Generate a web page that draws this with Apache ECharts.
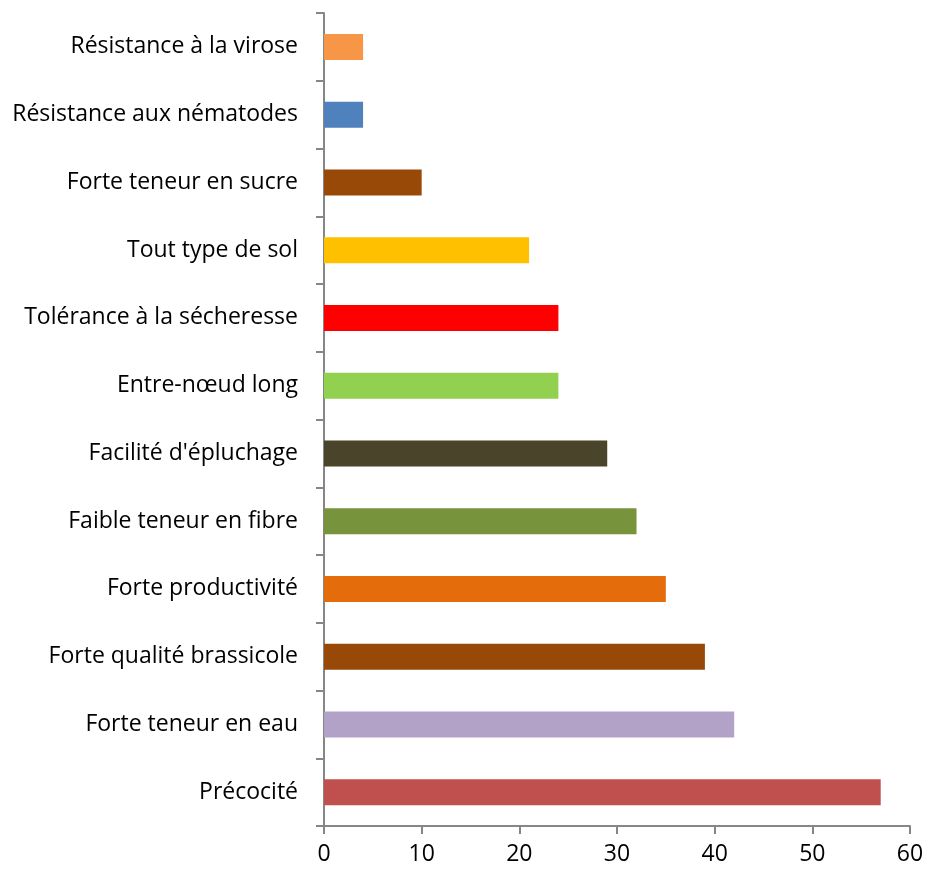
<!DOCTYPE html>
<html>
<head>
<meta charset="utf-8">
<script src="https://cdn.jsdelivr.net/npm/echarts@6/dist/echarts.min.js"></script>
<style>
    html, body { margin: 0; padding: 0; background: #fff; }
    #chart-bar-01 { width: 929px; height: 872px; }
</style>
</head>
<body>
<div id="chart-bar-01"></div>
<script>
// 类别（从下到上）
var categories = ['Précocité', 'Forte teneur en eau', 'Forte qualité brassicole', 'Forte productivité',
    'Faible teneur en fibre', "Facilité d'épluchage", 'Entre-nœud long', 'Tolérance à la sécheresse',
    'Tout type de sol', 'Forte teneur en sucre', 'Résistance aux nématodes', 'Résistance à la virose'];
var values = [57, 42, 39, 35, 32, 29, 24, 24, 21, 10, 4, 4];
var barColors = ['#C0504D', '#B3A2C7', '#984807', '#E46C0A', '#77933C', '#4A452A',
    '#92D050', '#FF0000', '#FFC000', '#984807', '#4F81BD', '#F79646'];
var xTicks = [0, 10, 20, 30, 40, 50, 60];

var chartbar1 = echarts.init(document.getElementById('chart-bar-01'));

var option = {
    animation: false,
    textStyle: {
        fontFamily: 'Open Sans'
    },
    grid: {
        left: 324,
        right: 19,
        top: 13,
        bottom: 46,
        containLabel: false
    },
    xAxis: {
        type: 'value',
        min: xTicks[0],
        max: xTicks[xTicks.length - 1],
        interval: 10,
        axisLabel: {
            color: '#000',
            fontSize: 23,
            margin: 17
        },
        axisLine: {
            show: true,
            lineStyle: { color: '#868686', width: 2 }
        },
        axisTick: {
            show: true,
            length: 8,
            lineStyle: { color: '#868686', width: 2 }
        },
        splitLine: { show: false }
    },
    yAxis: {
        type: 'category',
        data: categories,
        axisLabel: {
            color: '#000',
            fontSize: 23,
            margin: 26
        },
        axisLine: {
            show: true,
            lineStyle: { color: '#868686', width: 2 }
        },
        axisTick: {
            show: true,
            length: 8,
            alignWithLabel: false,
            lineStyle: { color: '#868686', width: 2 }
        },
        splitLine: { show: false }
    },
    series: [{
        type: 'bar',
        barWidth: 26,
        data: values.map(function (v, i) {
            return { value: v, itemStyle: { color: barColors[i] } };
        })
    }]
};

chartbar1.setOption(option);
</script>
</body>
</html>
